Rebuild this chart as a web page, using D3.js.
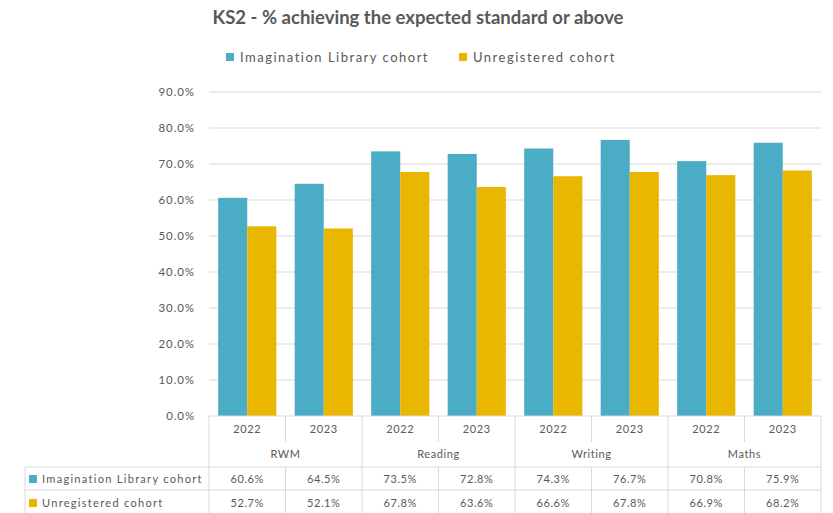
<!DOCTYPE html>
<html><head><meta charset="utf-8">
<script src="https://cdn.jsdelivr.net/npm/d3@7"></script>
<style>body{margin:0;background:#fff}svg{display:block}text{font-family:Lato,"Open Sans",sans-serif;fill:#595959}</style>
</head><body><svg id="c" width="833" height="513"></svg>
<script>
const subjects = ["RWM","Reading","Writing","Maths"];
const years = ["2022","2023"];
const seriesNames = ["Imagination Library cohort","Unregistered cohort"];
const imagination = [60.6,64.5,73.5,72.8,74.3,76.7,70.8,75.9];
const unregistered = [52.7,52.1,67.8,63.6,66.6,67.8,66.9,68.2];
const yTicks = [0,10,20,30,40,50,60,70,80,90];
const colors = ["#4BACC6","#EAB700"];

(function(){
const svg = d3.select("#c");
const pLeft = 209, pRight = 821, pTop = 92, pBottom = 416;
const cats = [];
subjects.forEach(s => years.forEach(y => cats.push(s + "|" + y)));
const x = d3.scaleBand().domain(cats).range([pLeft, pRight]).paddingInner(0.24).paddingOuter(0.12);
const xb = d3.scaleBand().domain(cats).range([pLeft, pRight]);
const sub = d3.scaleBand().domain([0,1]).range([0, x.bandwidth()]);
const y = d3.scaleLinear().domain([0,90]).range([pBottom, pTop]);
const series = [imagination, unregistered];
const grid = "#d9d9d9";
const fs = "11px", ls = "0.6px";

svg.append("g").selectAll("line").data(yTicks.filter(t=>t>0)).join("line")
  .attr("x1", pLeft).attr("x2", pRight).attr("y1", d=>y(d)).attr("y2", d=>y(d))
  .attr("stroke", grid).attr("stroke-width", 1);
svg.append("g").selectAll("text").data(yTicks).join("text")
  .attr("x", 195).attr("y", d=>y(d)+4).attr("text-anchor","end")
  .style("font-size","11.5px").style("letter-spacing","0.9px").text(d=>d.toFixed(1)+"%");

series.forEach((vals, si) => {
  svg.append("g").selectAll("rect").data(vals).join("rect")
    .attr("x", (d,i)=>x(cats[i]) + sub(si)).attr("width", sub.bandwidth())
    .attr("y", d=>y(d)).attr("height", d=>pBottom - y(d)).attr("fill", colors[si]);
});

svg.append("text").attr("x", 418).attr("y", 24).attr("text-anchor","middle")
  .style("font-size","18.5px").style("font-weight","bold").text("KS2 - % achieving the expected standard or above");

const legX = [226, 459];
seriesNames.forEach((n, i) => {
  svg.append("rect").attr("x", legX[i]).attr("y", 53).attr("width", 8).attr("height", 8).attr("fill", colors[i]);
  svg.append("text").attr("x", legX[i]+14).attr("y", 62).style("font-size","13px").style("letter-spacing","1.5px").text(n);
});

const tg = svg.append("g");
const hdrTop = pBottom, yearBot = 442, hdrBot = 467, row1Bot = 490, row2Bot = 514, tabLeft = 25;
function line(x1,y1,x2,y2){tg.append("line").attr("x1",x1).attr("y1",y1).attr("x2",x2).attr("y2",y2).attr("stroke",grid).attr("stroke-width",1);}
line(pLeft, hdrTop, pRight, hdrTop);
line(tabLeft, hdrBot, pRight, hdrBot);
line(tabLeft, row1Bot, pRight, row1Bot);
line(tabLeft, row2Bot, pRight, row2Bot);
line(tabLeft, hdrBot, tabLeft, row2Bot);
line(pLeft, hdrTop, pLeft, row2Bot);
cats.forEach((c, i) => {
  const xr = xb(c) + xb.bandwidth();
  if (i % 2 === 1) line(xr, hdrTop, xr, row2Bot);
  else { line(xr, hdrTop, xr, yearBot); line(xr, hdrBot, xr, row2Bot); }
  const cx = xb(c) + xb.bandwidth()/2;
  tg.append("text").attr("x", cx).attr("y", 433).attr("text-anchor","middle").style("font-size",fs).style("letter-spacing",ls).text(c.split("|")[1]);
  tg.append("text").attr("x", cx).attr("y", 483).attr("text-anchor","middle").style("font-size",fs).style("letter-spacing",ls).text(imagination[i].toFixed(1)+"%");
  tg.append("text").attr("x", cx).attr("y", 507).attr("text-anchor","middle").style("font-size",fs).style("letter-spacing",ls).text(unregistered[i].toFixed(1)+"%");
});
subjects.forEach((s, si) => {
  const cx = xb(cats[si*2]) + xb.bandwidth();
  tg.append("text").attr("x", cx).attr("y", 458).attr("text-anchor","middle").style("font-size",fs).style("letter-spacing",ls).text(s);
});
seriesNames.forEach((n, i) => {
  const ry = i === 0 ? 483 : 507;
  tg.append("rect").attr("x", 29).attr("y", ry-8).attr("width", 8).attr("height", 8).attr("fill", colors[i]);
  tg.append("text").attr("x", 42).attr("y", ry).style("font-size","11px").style("letter-spacing","1.3px").text(n);
});
})();
</script></body></html>
